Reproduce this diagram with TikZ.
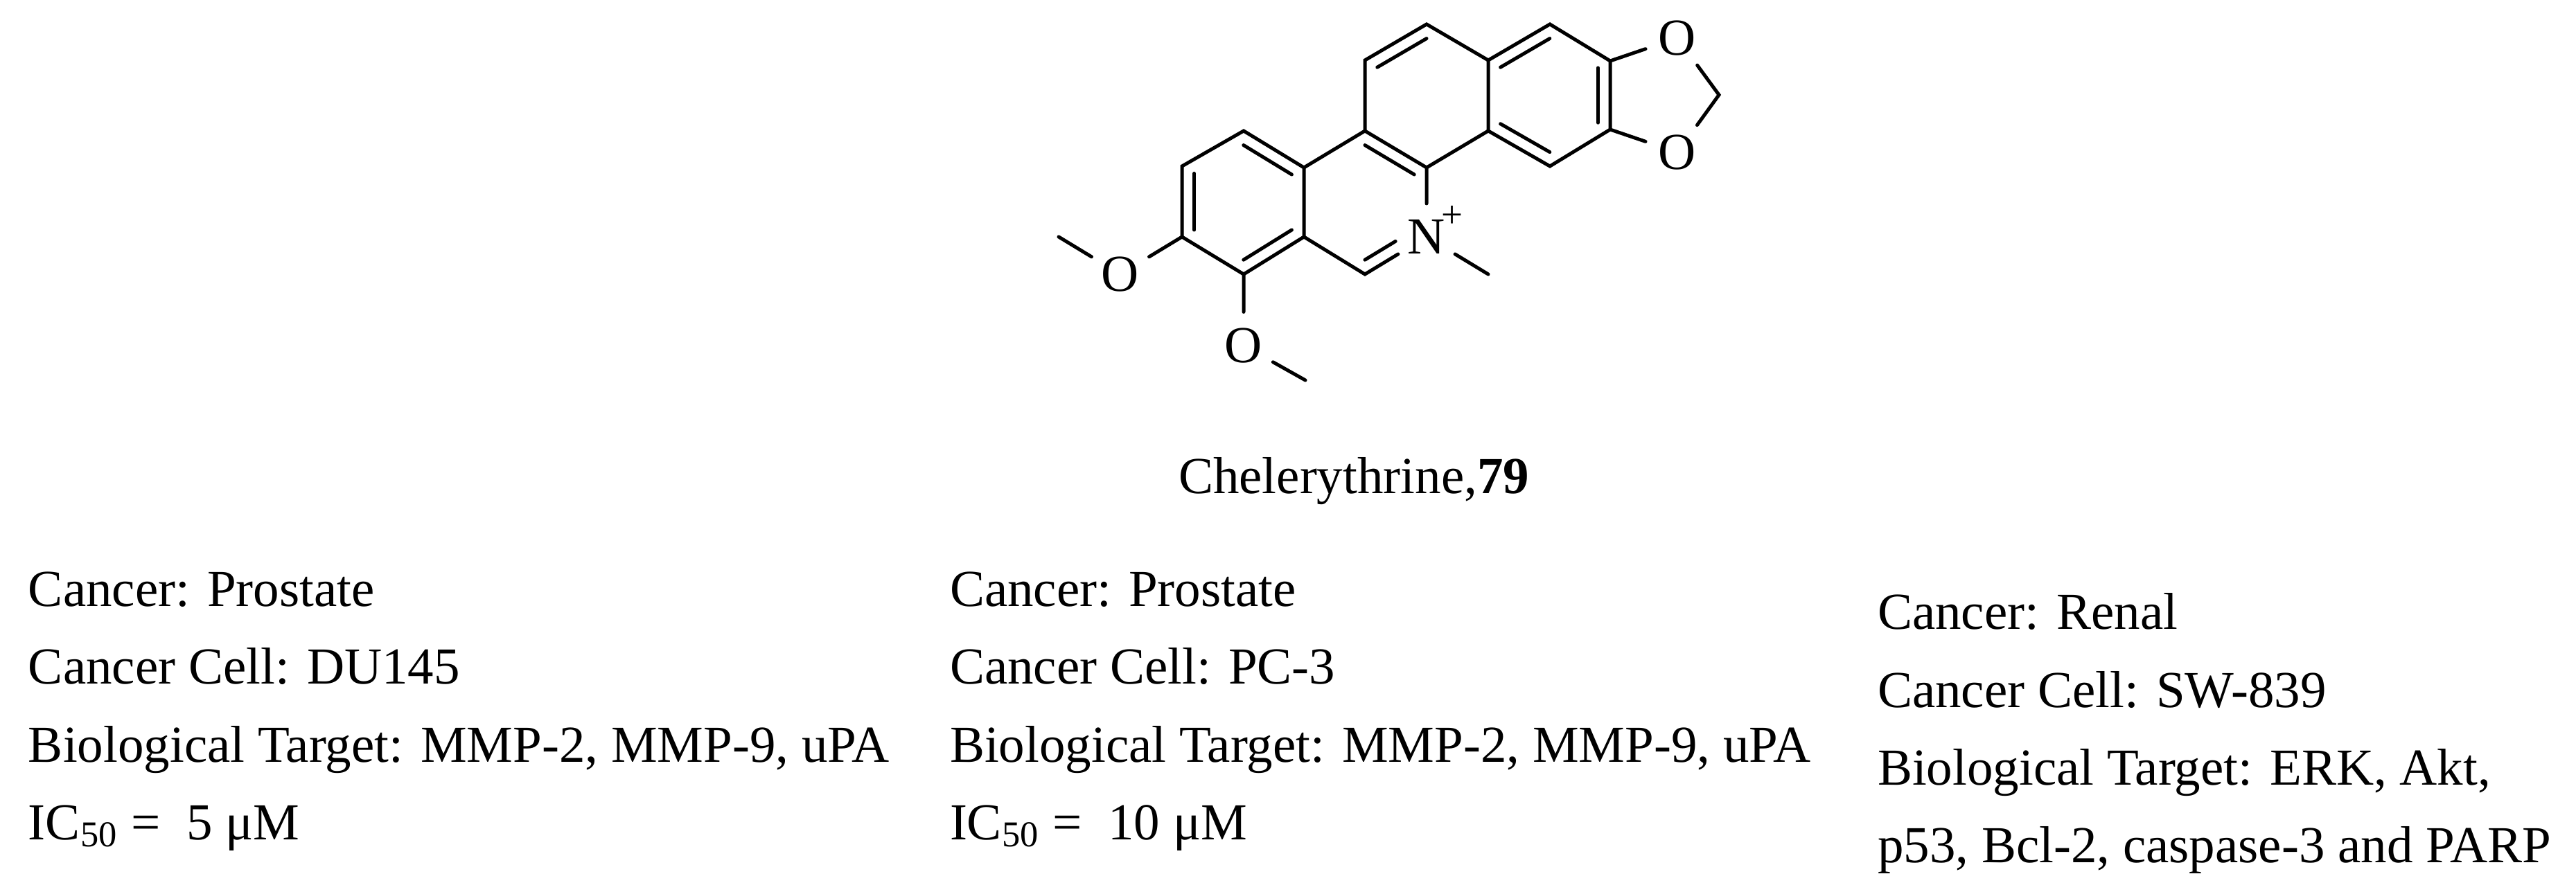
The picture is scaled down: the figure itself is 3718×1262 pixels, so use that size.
\documentclass[tikz,border=0pt]{standalone}
\usepackage{fontspec}
\setmainfont{Liberation Serif}
\usetikzlibrary{calc}
\begin{document}
\begin{tikzpicture}[x=0.2pt,y=-0.2pt,
  bond/.style={line width=1pt,line cap=round},
  atom/.style={circle,inner sep=1.5pt,font=\fontsize{15}{18}\selectfont},
  txt/.style={anchor=base west,inner sep=0,font=\fontsize{15}{18}\selectfont}]
\useasboundingbox (0,0) rectangle (3718,1262);
% ring A
\coordinate (a1) at (1795,189); \coordinate (a2) at (1882,242);
\coordinate (a3) at (1882,342); \coordinate (a4) at (1795,396);
\coordinate (a5) at (1706,342); \coordinate (a6) at (1706,240);
\coordinate (cA) at (1794,292);
% ring B
\coordinate (b2) at (1970,189); \coordinate (b3) at (2059,242);
\coordinate (b5) at (1970,396); \coordinate (cB) at (1970,292);
\node[atom] (N) at (2059,342) {N};
\node[anchor=south west,inner sep=0,font=\fontsize{11}{12}\selectfont] (plus) at ($(N.north east)+(-14,22)$) {+};
% ring C
\coordinate (c2) at (1970,87); \coordinate (c3) at (2059,35);
\coordinate (c4) at (2148,87); \coordinate (c5) at (2148,189);
\coordinate (cC) at (2059,138);
% ring D
\coordinate (d2) at (2237,35); \coordinate (d3) at (2324,88);
\coordinate (d4) at (2324,187); \coordinate (d5) at (2237,240);
\coordinate (cD) at (2236,138);
% dioxole
\node[atom] (O1) at (2421,55) {O};
\node[atom] (O2) at (2421,220) {O};
\coordinate (ch2) at (2481,137);
% methoxy
\node[atom] (O3) at (1617,396) {O};
\coordinate (m3) at (1528,342);
\node[atom] (O4) at (1795,499) {O};
\coordinate (m4) at (1884,549);
\coordinate (mN) at (2148,396);
% bonds ring A
\draw[bond] (a1)--(a2)--(a3)--(a4)--(a5)--(a6)--cycle;
\draw[bond] ($(a1)!0.2!(cA)$)--($(a2)!0.2!(cA)$);
\draw[bond] ($(a3)!0.2!(cA)$)--($(a4)!0.2!(cA)$);
\draw[bond] ($(a5)!0.2!(cA)$)--($(a6)!0.2!(cA)$);
% ring B
\draw[bond] (a2)--(b2)--(b3)--(N);
\draw[bond] (a3)--(b5)--(N);
\draw[bond] ($(b2)!0.2!(cB)$)--($(b3)!0.2!(cB)$);
\draw[bond] ($(b5)!0.2!(cB)$)--($(b5)!0.2!(cB)!0.62!($(N)!0.2!(cB)$)$);
% ring C
\draw[bond] (b2)--(c2)--(c3)--(c4)--(c5)--(b3);
\draw[bond] ($(c2)!0.2!(cC)$)--($(c3)!0.2!(cC)$);
% ring D
\draw[bond] (c4)--(d2)--(d3)--(d4)--(d5)--(c5);
\draw[bond] ($(c4)!0.2!(cD)$)--($(d2)!0.2!(cD)$);
\draw[bond] ($(d3)!0.2!(cD)$)--($(d4)!0.2!(cD)$);
\draw[bond] ($(d5)!0.2!(cD)$)--($(c5)!0.2!(cD)$);
% dioxole
\draw[bond] (d3)--(O1); \draw[bond] (d4)--(O2);
\draw[bond] (O1)--(ch2)--(O2);
% substituents
\draw[bond] (a5)--(O3)--(m3);
\draw[bond] (a4)--(O4)--(m4);
\draw[bond] (N)--(mN);
% texts
\node[txt] (name) at (1700,713) {Chelerythrine,\textbf{79}};
\node[txt] (l1) at (40,876) {Cancer: Prostate};
\node[txt] (l2) at (40,988) {Cancer Cell: DU145};
\node[txt] (l3) at (40,1100) {Biological Target: MMP-2, MMP-9, uPA};
\node[txt] (l4) at (40,1212) {IC\textsubscript{50} =\ \ 5 μM};
\node[txt] (m1) at (1370,876) {Cancer: Prostate};
\node[txt] (m2) at (1370,988) {Cancer Cell: PC-3};
\node[txt] (m3t) at (1370,1100) {Biological Target: MMP-2, MMP-9, uPA};
\node[txt] (m4t) at (1370,1212) {IC\textsubscript{50} =\ \ 10 μM};
\node[txt] (r1) at (2709,909) {Cancer: Renal};
\node[txt] (r2) at (2709,1021) {Cancer Cell: SW-839};
\node[txt] (r3) at (2709,1133) {Biological Target: ERK, Akt,};
\node[txt] (r4) at (2709,1245) {p53, Bcl-2, caspase-3 and PARP};
\end{tikzpicture}
\end{document}
